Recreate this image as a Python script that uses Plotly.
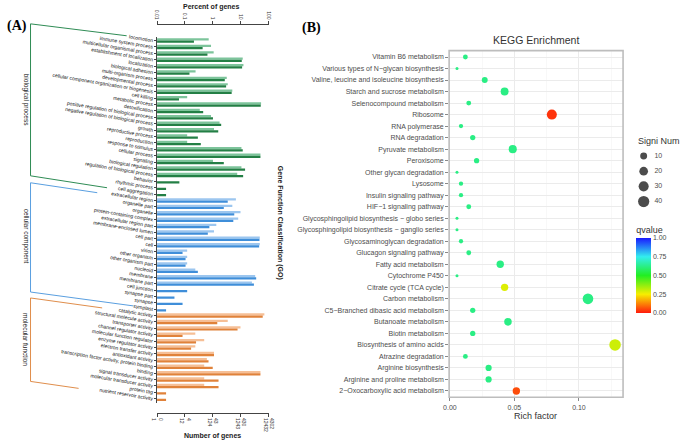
import math
import plotly.graph_objects as go

# ---------------- Panel A : GO classification ----------------
GO_TERMS = [
    "locomotion", "immune system process", "multicellular organismal process",
    "establishment of localization", "localization", "biological adhesion",
    "multi-organism process", "developmental process",
    "cellular component organization or biogenesis", "cell killing",
    "metabolic process", "detoxification",
    "positive regulation of biological process",
    "negative regulation of biological process", "growth",
    "reproductive process", "reproduction", "response to stimulus",
    "cellular process", "signaling", "biological regulation",
    "regulation of biological process", "behavior", "rhythmic process",
    "cell aggregation",
    "extracellular region", "organelle part", "organelle",
    "protein-containing complex", "extracellular region part",
    "membrane-enclosed lumen", "cell part", "cell", "virion",
    "other organism", "other organism part", "nucleoid", "membrane",
    "membrane part", "cell junction", "synapse part", "synapse", "symplast",
    "catalytic activity", "structural molecule activity",
    "transporter activity", "channel regulator activity",
    "molecular function regulator", "enzyme regulator activity",
    "electron transfer activity", "antioxidant activity",
    "transcription factor activity, protein binding", "binding",
    "signal transducer activity", "molecular transducer activity",
    "protein tag", "nutrient reservoir activity",
]
GO_GROUP = (["biological process"] * 25 + ["cellular component"] * 18
            + ["molecular function"] * 14)
LIGHT_PCT = [0.71, 0.86, 1.07, 11.8, 12.5, 0.24, 3.15, 3.42, 4.99, 0.12,
             53.7, 0.34, 0.86, 1.74, 1.10, 0.12, 0.12, 10.6, 50.9, 1.01,
             10.6, 7.48, None, None, None,
             6.71, 4.99, 9.8, 8.11, 1.33, 1.10, 48.2, 48.2, 0.12, 0.12,
             0.12, 0.235, 33.0, 25.2, None, None, None, None,
             70.4, 3.42, 9.8, 0.235, 0.49, 0.235, 1.10, 0.61, 0.49, 50.9,
             0.49, 0.49, None, None]
DARK_PCT = [0.21, 0.43, 0.64, 10.9, 11.2, 0.145, 2.68, 2.99, 4.73, 0.061,
            52.3, 0.45, 1.01, 1.99, 1.56, 0.29, 0.37, 11.8, 50.9, 2.47,
            14.3, 12.2, 0.063, 0.021, 0.021,
            3.42, 2.47, 5.86, 5.41, 0.75, 0.66, 47.0, 45.7, 0.082, 0.105,
            0.105, 0.29, 35.8, 29.7, 0.12, 0.042, 0.082, 0.021,
            61.5, 1.44, 7.69, 0.082, 0.25, 0.166, 1.10, 0.70, 0.99, 50.9,
            1.60, 1.60, 0.021, 0.021]
PCT_TICKS = [0.01, 0.1, 1, 10, 100]
PCT_LABELS = ["0.01", "0.1", "1", "10", "100"]
NUM_LABELS = ["0<br>1", "4<br>12", "43<br>124", "430<br>1243", "4302<br>12432"]

# ---------------- Panel B : KEGG enrichment ----------------
KEGG_TERMS = [
    "Vitamin B6 metabolism",
    "Various types of N\u2212glycan biosynthesis",
    "Valine, leucine and isoleucine biosynthesis",
    "Starch and sucrose metabolism",
    "Selenocompound metabolism",
    "Ribosome",
    "RNA polymerase",
    "RNA degradation",
    "Pyruvate metabolism",
    "Peroxisome",
    "Other glycan degradation",
    "Lysosome",
    "Insulin signaling pathway",
    "HIF\u22121 signaling pathway",
    "Glycosphingolipid biosynthesis \u2212 globo series",
    "Glycosphingolipid biosynthesis \u2212 ganglio series",
    "Glycosaminoglycan degradation",
    "Glucagon signaling pathway",
    "Fatty acid metabolism",
    "Cytochrome P450",
    "Citrate cycle (TCA cycle)",
    "Carbon metabolism",
    "C5\u2212Branched dibasic acid metabolism",
    "Butanoate metabolism",
    "Biotin metabolism",
    "Biosynthesis of amino acids",
    "Atrazine degradation",
    "Arginine biosynthesis",
    "Arginine and proline metabolism",
    "2\u2212Oxocarboxylic acid metabolism",
]
RICH_FACTOR = [0.012, 0.0055, 0.027, 0.0424, 0.0146, 0.079, 0.0086, 0.0177,
               0.0487, 0.0207, 0.0055, 0.0086, 0.0086, 0.0146, 0.0055,
               0.0055, 0.0086, 0.0146, 0.039, 0.0055, 0.0424, 0.107, 0.0177,
               0.045, 0.0177, 0.128, 0.012, 0.030, 0.030, 0.0515]
SIGNI_NUM = [3, 1, 6, 15, 3, 30, 2, 4, 16, 4, 1, 2, 2, 3, 1, 1, 2, 3, 12, 1,
             12, 35, 4, 13, 4, 43, 3, 7, 7, 12]
QVALUE = [0.62, 0.62, 0.62, 0.62, 0.62, 0.03, 0.62, 0.62, 0.62, 0.62, 0.62,
          0.62, 0.62, 0.62, 0.62, 0.62, 0.62, 0.62, 0.62, 0.62, 0.28, 0.62,
          0.62, 0.62, 0.62, 0.3, 0.62, 0.62, 0.62, 0.06]
SIZE_LEGEND = [10, 20, 30, 40]

# ---------------- styling ----------------
W, H = 685, 441
def px(x):
    return x / W
def py(y):
    return 1 - y / H

SANS = "Liberation Sans, Arial, sans-serif"
LIGHT_COL = {"biological process": "#7dc49b", "cellular component": "#9cc6ef",
             "molecular function": "#f6bf96"}
DARK_COL = {"biological process": "#237f45", "cellular component": "#3f8ed9",
            "molecular function": "#e0823a"}
LINE_COL = {"biological process": "#2f8c55", "cellular component": "#5a9fe0",
            "molecular function": "#e08e4c"}

fig = go.Figure()

fig.add_trace(go.Bar(
    y=GO_TERMS, x=LIGHT_PCT, orientation="h", name="light",
    marker=dict(color=[LIGHT_COL[g] for g in GO_GROUP], line_width=0),
    xaxis="x", yaxis="y", showlegend=False))
fig.add_trace(go.Bar(
    y=GO_TERMS, x=DARK_PCT, orientation="h", name="dark",
    marker=dict(color=[DARK_COL[g] for g in GO_GROUP], line_width=0),
    xaxis="x", yaxis="y", showlegend=False))
# invisible trace to activate top axis
fig.add_trace(go.Scatter(x=[None], y=[None], xaxis="x3", yaxis="y",
                         showlegend=False))

# ----- Panel B bubbles -----
smin, smax = min(SIGNI_NUM), max(SIGNI_NUM)
def bubble(v):
    return 3 + 8.5 * math.sqrt(max(v - smin, 0) / (smax - smin))

QSCALE = [[0, "#ff1a0d"], [0.25, "#f7ee00"], [0.5, "#22ee22"],
          [0.75, "#33eeee"], [1, "#1a1aff"]]

fig.add_trace(go.Scatter(
    x=RICH_FACTOR, y=KEGG_TERMS, mode="markers", xaxis="x2", yaxis="y2",
    showlegend=False,
    marker=dict(size=[bubble(v) for v in SIGNI_NUM], color=QVALUE,
                colorscale=QSCALE, cmin=0, cmax=1, line_width=0, opacity=1,
                colorbar=dict(
                    title=dict(text="qvalue", side="top",
                               font=dict(size=9, color="#333", family=SANS)),
                    x=px(642.5), xanchor="left", y=py(312), yanchor="bottom",
                    len=90, lenmode="pixels", thickness=14.5,
                    thicknessmode="pixels", outlinewidth=0,
                    tickvals=[0, 0.25, 0.5, 0.75, 1],
                    ticktext=["0.00", "0.25", "0.50", "0.75", "1.00"],
                    tickfont=dict(size=7, color="#4d4d4d", family=SANS),
                    ticks="", ypad=0, xpad=0))))

# ----- size legend (own small axes) -----
fig.add_trace(go.Scatter(
    x=[0] * len(SIZE_LEGEND), y=SIZE_LEGEND, mode="markers",
    xaxis="x4", yaxis="y4", showlegend=False, hoverinfo="skip",
    marker=dict(size=[bubble(v) for v in SIZE_LEGEND], color="black",
                line_width=0)))
fig.add_trace(go.Scatter(
    x=[1] * len(SIZE_LEGEND), y=SIZE_LEGEND, mode="text",
    text=[str(v) for v in SIZE_LEGEND], textposition="middle right",
    textfont=dict(size=7, color="#4d4d4d", family=SANS),
    xaxis="x4", yaxis="y4", showlegend=False, hoverinfo="skip"))

# ----- brackets (panel A) -----
BRACKETS = {
    "biological process": [(123, 33), (25, 21), (25, 174), (103, 186)],
    "cellular component": [(93, 191), (25, 181), (25, 291), (130, 305)],
    "molecular function": [(98, 307), (25, 297), (25, 381), (74, 388)],
}
shapes = []
for g, pts in BRACKETS.items():
    path = "M " + " L ".join(f"{px(x):.5f},{py(y):.5f}" for x, y in pts)
    shapes.append(dict(type="path", xref="paper", yref="paper", path=path,
                       line=dict(color=LINE_COL[g], width=1)))
shapes.append(dict(type="rect", xref="x2 domain", yref="y2 domain",
                   x0=0, x1=1, y0=0, y1=1,
                   line=dict(color="#bdbdbd", width=1.6)))

annotations = [
    dict(text="<b>(A)</b>", x=px(11), y=py(23), font=dict(size=14,
         family="Liberation Serif, Times New Roman, serif", color="black")),
    dict(text="<b>(B)</b>", x=px(311), y=py(25), font=dict(size=14,
         family="Liberation Serif, Times New Roman, serif", color="black")),
    dict(text="<b>Percent of genes</b>", x=px(209), y=py(4),
         font=dict(size=7, family=SANS, color="#222")),
    dict(text="<b>Number of genes</b>", x=px(211), y=py(436),
         font=dict(size=7, family=SANS, color="#222")),
    dict(text="<b>Gene Function Classification (GO)</b>", x=px(279),
         y=py(221), textangle=90, font=dict(size=7, family=SANS, color="#222")),
    dict(text="biological process", x=px(20), y=py(97), textangle=90,
         font=dict(size=6.5, family=SANS, color="#222")),
    dict(text="cellular component", x=px(20), y=py(235), textangle=90,
         font=dict(size=6.5, family=SANS, color="#222")),
    dict(text="molecular function", x=px(20), y=py(339), textangle=90,
         font=dict(size=6.5, family=SANS, color="#222")),
    dict(text="KEGG Enrichment", x=px(540), y=py(37),
         font=dict(size=10.5, family=SANS, color="#333")),
    dict(text="Rich factor", x=px(540), y=py(416),
         font=dict(size=9, family=SANS, color="#333")),
    dict(text="Signi Num", x=px(642), y=py(139), xanchor="left",
         font=dict(size=9, family=SANS, color="#333")),
]
for a in annotations:
    a.setdefault("xanchor", "center")
    a.update(xref="paper", yref="paper", showarrow=False, yanchor="middle")

fig.update_layout(
    width=W, height=H, margin=dict(l=0, r=0, t=0, b=0),
    paper_bgcolor="white", plot_bgcolor="white",
    barmode="group", bargap=0.3, bargroupgap=0,
    shapes=shapes, annotations=annotations, showlegend=False,
    font=dict(family=SANS),
    xaxis=dict(type="log", range=[-2, 2], domain=[px(154), px(267.7)],
               anchor="free", position=py(412.7), side="bottom",
               showgrid=False, zeroline=False, showline=True,
               linecolor="#444", linewidth=1, ticks="outside", ticklen=3,
               tickcolor="#444", tickvals=PCT_TICKS, ticktext=NUM_LABELS,
               tickangle=90, tickfont=dict(size=5, color="#333")),
    xaxis3=dict(type="log", range=[-2, 2], overlaying="x", anchor="free",
                position=py(21.5), side="top", showgrid=False,
                zeroline=False, showline=True, linecolor="#444", linewidth=1,
                ticks="outside", ticklen=3, tickcolor="#444",
                tickvals=PCT_TICKS, ticktext=PCT_LABELS, tickangle=90,
                tickfont=dict(size=5, color="#333")),
    yaxis=dict(domain=[py(402.3), py(34)], anchor="x", type="category",
               categoryorder="array", categoryarray=GO_TERMS,
               range=[56.6, -0.6], showgrid=False, zeroline=False,
               showline=True, linecolor="#444", linewidth=1,
               ticks="outside", ticklen=2, tickcolor="#444",
               tickangle=9.5, tickfont=dict(size=5, color="#111")),
    xaxis2=dict(domain=[px(451.7), px(629)], anchor="y2",
                range=[-0.0006, 0.1342], tick0=0, dtick=0.05,
                tickformat=".2f", showgrid=True, gridcolor="#ebebeb",
                gridwidth=1, zeroline=False, ticks="outside", ticklen=3,
                tickcolor="#888", tickfont=dict(size=7, color="#4d4d4d"),
                minor=dict(dtick=0.025, tick0=0, showgrid=True,
                           gridcolor="#f4f4f4", gridwidth=0.6)),
    yaxis2=dict(domain=[py(397), py(48)], anchor="x2", type="category",
                categoryorder="array", categoryarray=KEGG_TERMS,
                range=[29.55, -0.55], showgrid=True, gridcolor="#ebebeb",
                gridwidth=1, zeroline=False, ticks="outside", ticklen=3,
                tickcolor="#888", tickfont=dict(size=7, color="#4d4d4d")),
    # size-legend axes: x=0 -> marker column (~650px), x=1 -> label start (~661px)
    xaxis4=dict(domain=[px(640), px(685)], anchor="y4", range=[-0.9091, 3.1818],
                visible=False, fixedrange=True),
    yaxis4=dict(domain=[py(206), py(148)], anchor="x4", range=[44, 6],
                visible=False, fixedrange=True),
)

fig.write_html("out.html",
               config={"displayModeBar": False, "staticPlot": True},
               post_script="document.body.style.margin='0';"
                           "document.body.style.overflow='hidden';")
